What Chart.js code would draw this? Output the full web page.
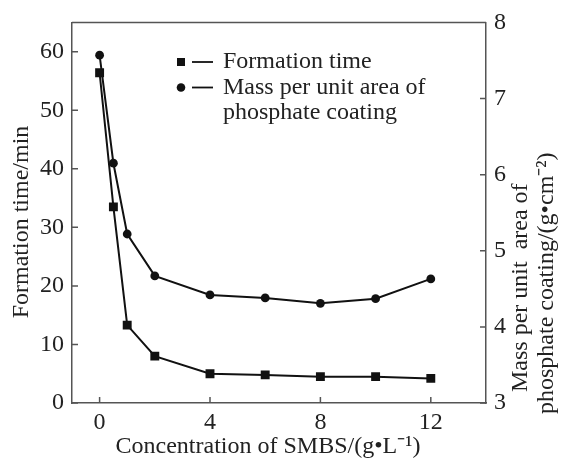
<!DOCTYPE html>
<html>
<head>
<meta charset="utf-8">
<script src="https://cdn.jsdelivr.net/npm/chart.js@4.4.0/dist/chart.umd.min.js"></script>
<style>
  html, body { margin: 0; padding: 0; background: #fff; }
  #wrap { width: 561px; height: 464px; position: relative; }
</style>
</head>
<body>
<div id="wrap"><canvas id="myChart"></canvas></div>
<script>
// SMBS concentration, g/L
const concentration = [0, 0.5, 1, 2, 4, 6, 8, 10, 12]
// formation time, min (left axis)
const formationTime = [56.4, 33.5, 13.3, 8.0, 5.0, 4.8, 4.5, 4.5, 4.2]
// mass per unit area of phosphate coating, g/cm2 (right axis)
const massPerArea = [7.57, 6.15, 5.22, 4.67, 4.42, 4.38, 4.31, 4.37, 4.63]

const xTicks = [0, 4, 8, 12]
const leftTicks = [0, 10, 20, 30, 40, 50, 60]
const rightTicks = [3, 4, 5, 6, 7, 8]

const xTitle = 'Concentration of SMBS/(g\u2022L\u207B\u00B9)'
const leftTitle = 'Formation time/min'
const rightTitle = ['Mass per unit  area of', 'phosphate coating/(g\u2022cm\u207B\u00B2)']
const legendLabels = [['Formation time'], ['Mass per unit area of', 'phosphate coating']]

const FONT = "'Liberation Serif', 'Times New Roman', serif"
const axisColor = '#555'
const lineColor = '#111'

function toPoints(ys) {
  return concentration.map((x, i) => ({ x: x, y: ys[i] }))
}

// inward tick marks, top frame line, titles and legend
const decorPlugin = {
  id: 'decor',
  afterDraw(chart) {
    const ctx = chart.ctx
    const area = chart.chartArea
    const sx = chart.scales.x, sl = chart.scales.y, sr = chart.scales.y1
    ctx.save()
    ctx.strokeStyle = axisColor
    ctx.lineWidth = 1.5
    ctx.beginPath()
    ctx.moveTo(area.left, area.top)
    ctx.lineTo(area.right, area.top)
    xTicks.forEach(v => {
      const px = sx.getPixelForValue(v)
      ctx.moveTo(px, area.bottom)
      ctx.lineTo(px, area.bottom - 6)
    })
    leftTicks.forEach(v => {
      const py = sl.getPixelForValue(v)
      ctx.moveTo(area.left, py)
      ctx.lineTo(area.left + 6, py)
    })
    rightTicks.forEach(v => {
      const py = sr.getPixelForValue(v)
      ctx.moveTo(area.right, py)
      ctx.lineTo(area.right - 6, py)
    })
    ctx.stroke()

    ctx.fillStyle = '#222'
    ctx.font = '24px ' + FONT
    ctx.textBaseline = 'middle'

    // x title
    ctx.textAlign = 'center'
    ctx.fillText(xTitle, 268, 447)

    // left title
    ctx.save()
    ctx.translate(22, 222)
    ctx.rotate(-Math.PI / 2)
    ctx.fillText(leftTitle, 0, 0)
    ctx.restore()

    // right title, reads bottom to top
    ctx.save()
    ctx.translate(521, 392)
    ctx.rotate(-Math.PI / 2)
    ctx.textAlign = 'left'
    ctx.fillText(rightTitle[0], 0, 0)
    ctx.fillText(rightTitle[1], -22, 26)
    ctx.restore()

    // legend
    const lx = 181, tx = 223
    let ly = 62
    ctx.textAlign = 'left'
    legendLabels.forEach((lines, i) => {
      ctx.fillStyle = lineColor
      ctx.beginPath()
      if (i === 0) {
        ctx.rect(lx - 4, ly - 4, 8, 8)
      } else {
        ctx.arc(lx, ly, 4.3, 0, Math.PI * 2)
      }
      ctx.fill()
      ctx.strokeStyle = lineColor
      ctx.lineWidth = 1.8
      ctx.beginPath()
      ctx.moveTo(192, ly)
      ctx.lineTo(213, ly)
      ctx.stroke()
      ctx.fillStyle = '#222'
      lines.forEach(t => {
        ctx.fillText(t, tx, ly)
        ly += 25.5
      })
    })
    ctx.restore()
  }
}

const ctx = document.getElementById('myChart')
const data = {
  datasets: [{
    label: legendLabels[0].join(' '),
    data: toPoints(formationTime),
    yAxisID: 'y',
    borderColor: lineColor,
    backgroundColor: lineColor,
    borderWidth: 2,
    pointStyle: 'rect',
    pointRadius: 6.3,
    pointBorderWidth: 0
  }, {
    label: legendLabels[1].join(' '),
    data: toPoints(massPerArea),
    yAxisID: 'y1',
    borderColor: lineColor,
    backgroundColor: lineColor,
    borderWidth: 2,
    pointStyle: 'circle',
    pointRadius: 4.4,
    pointBorderWidth: 0
  }]
}

const tickFont = { family: FONT, size: 24 }

const config = {
  type: 'line',
  data: data,
  plugins: [decorPlugin],
  options: {
    responsive: true,
    maintainAspectRatio: false,
    animation: false,
    layout: { padding: { top: 19, left: 0, right: 0, bottom: 0 } },
    plugins: {
      legend: { display: false },
      tooltip: { enabled: false }
    },
    scales: {
      x: {
        type: 'linear',
        position: 'bottom',
        min: -1,
        max: 14,
        afterBuildTicks: s => { s.ticks = xTicks.map(v => ({ value: v })) },
        afterFit: s => { s.height = 61 },
        grid: { display: false, drawTicks: false },
        border: { display: true, color: axisColor, width: 1.5 },
        ticks: { color: '#222', font: tickFont, padding: 5, maxRotation: 0 }
      },
      y: {
        position: 'left',
        min: 0,
        max: 65,
        afterBuildTicks: s => { s.ticks = leftTicks.map(v => ({ value: v })) },
        afterFit: s => { s.width = 72 },
        grid: { display: false, drawTicks: false },
        border: { display: true, color: axisColor, width: 1.5 },
        ticks: { color: '#222', font: tickFont, padding: 8 }
      },
      y1: {
        position: 'right',
        min: 3,
        max: 8,
        afterBuildTicks: s => { s.ticks = rightTicks.map(v => ({ value: v })) },
        afterFit: s => { s.width = 75 },
        grid: { display: false, drawTicks: false },
        border: { display: true, color: axisColor, width: 1.5 },
        ticks: { color: '#222', font: tickFont, padding: 8 }
      }
    }
  }
}
const myChart = new Chart(ctx, config)
</script>
</body>
</html>
